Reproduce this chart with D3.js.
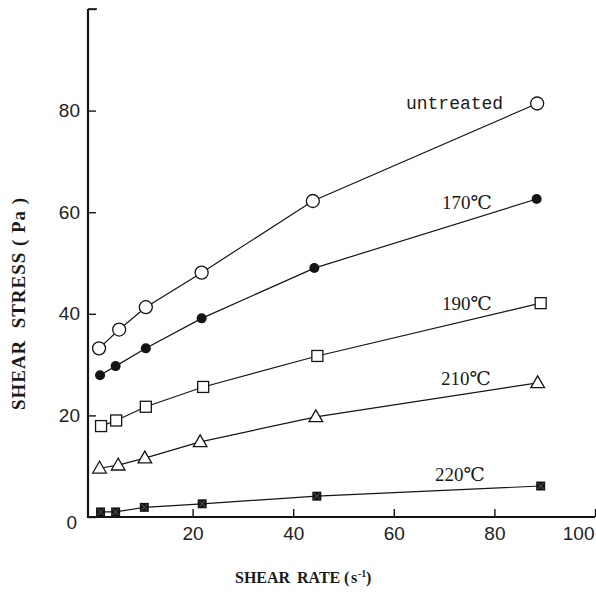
<!DOCTYPE html>
<html>
<head>
<meta charset="utf-8">
<script src="https://cdn.jsdelivr.net/npm/d3@7"></script>
<style>
  html, body { margin: 0; padding: 0; background: #fff; }
  svg { display: block; }
</style>
</head>
<body>
<svg id="chart" width="596" height="599"></svg>
<script>
// Shear stress vs shear rate for untreated and heat-treated samples
const rateTicks = [20, 40, 60, 80, 100];
const stressTicks = [0, 20, 40, 60, 80, 100];

const seriesNames = ["untreated", "170℃", "190℃", "210℃", "220℃"];

const rateUntreated = [1.4, 5.4, 10.7, 21.8, 43.9, 88.5];
const stressUntreated = [33.2, 36.9, 41.3, 48.1, 62.2, 81.4];

const rate170 = [1.6, 4.7, 10.7, 21.8, 44.2, 88.4];
const stress170 = [27.9, 29.7, 33.2, 39.1, 49.0, 62.6];

const rate190 = [1.8, 4.8, 10.7, 22.1, 44.8, 89.2];
const stress190 = [17.9, 19.0, 21.7, 25.6, 31.7, 42.1];

const rate210 = [1.5, 5.2, 10.5, 21.5, 44.5, 88.6];
const stress210 = [9.6, 10.2, 11.6, 14.8, 19.7, 26.4];

const rate220 = [1.7, 4.7, 10.4, 21.9, 44.7, 89.2];
const stress220 = [1.0, 1.0, 1.9, 2.6, 4.1, 6.1];

const rates = [rateUntreated, rate170, rate190, rate210, rate220];
const stresses = [stressUntreated, stress170, stress190, stress210, stress220];

// marker kind per series, and where each series label sits relative to its last point
const markerKinds = ["openCircle", "dot", "openSquare", "openTriangle", "darkSquare"];
const labelShift = [[-34, 6], [-45, 10], [-49, 7], [-47, 2], [-56, -5]];

const svg = d3.select("#chart");
const ink = "#151515";

const x = d3.scaleLinear().domain([0, 100]).range([92, 595]);
const y = d3.scaleLinear().domain([0, 100]).range([517, 9]);
const axisX = 88;

// y axis: ticks pointing into the plot
const gy = svg.append("g")
  .attr("transform", `translate(${axisX},0)`)
  .call(d3.axisLeft(y).tickValues(stressTicks).tickSize(-8).tickPadding(8)
    .tickFormat(d => d === 100 ? "" : String(d)));
gy.select(".domain").remove();
gy.selectAll(".tick line").attr("stroke", ink).attr("stroke-width", 1.4);
gy.selectAll(".tick text")
  .attr("font-family", "'Liberation Sans', Arial, sans-serif")
  .attr("font-size", 19).attr("fill", "#222");
gy.selectAll(".tick").filter(d => d === 0).select("text")
  .attr("dx", -3).attr("dy", "0.6em");

// x axis
const gx = svg.append("g")
  .attr("transform", `translate(0,${y(0)})`)
  .call(d3.axisBottom(x).tickValues(rateTicks).tickSize(-8).tickPadding(10));
gx.select(".domain").remove();
gx.selectAll(".tick line").attr("stroke", ink).attr("stroke-width", 1.4);
gx.selectAll(".tick text")
  .attr("font-family", "'Liberation Sans', Arial, sans-serif")
  .attr("font-size", 19).attr("fill", "#222");
// the last label is pulled in so it stays inside the frame
gx.selectAll(".tick").filter(d => d === 100).select("text")
  .attr("text-anchor", "end").attr("dx", -1);

// axis lines
svg.append("line")
  .attr("x1", axisX).attr("x2", axisX).attr("y1", y(0) + 1).attr("y2", y(100))
  .attr("stroke", ink).attr("stroke-width", 2.2);
svg.append("line")
  .attr("x1", axisX).attr("x2", x(100)).attr("y1", y(0)).attr("y2", y(0))
  .attr("stroke", ink).attr("stroke-width", 2);
svg.append("line")
  .attr("x1", axisX).attr("x2", axisX + 9).attr("y1", y(100)).attr("y2", y(100))
  .attr("stroke", ink).attr("stroke-width", 1.6);

// series lines
const line = d3.line().x(d => x(d[0])).y(d => y(d[1]));
const seriesPts = rates.map((r, i) => r.map((v, j) => [v, stresses[i][j]]));

svg.append("g").selectAll("path")
  .data(seriesPts)
  .join("path")
  .attr("d", line)
  .attr("fill", "none")
  .attr("stroke", ink)
  .attr("stroke-width", 1.2);

// markers
const marks = svg.append("g");
seriesPts.forEach((pts, i) => {
  const kind = markerKinds[i];
  const g = marks.append("g");
  pts.forEach(p => {
    const cx = x(p[0]), cy = y(p[1]);
    if (kind === "openCircle") {
      g.append("circle").attr("cx", cx).attr("cy", cy).attr("r", 6.5)
        .attr("fill", "#fff").attr("stroke", ink).attr("stroke-width", 1.3);
    } else if (kind === "dot") {
      g.append("circle").attr("cx", cx).attr("cy", cy).attr("r", 5)
        .attr("fill", ink);
    } else if (kind === "openSquare") {
      g.append("rect").attr("x", cx - 5.5).attr("y", cy - 5.5)
        .attr("width", 11).attr("height", 11)
        .attr("fill", "#fff").attr("stroke", ink).attr("stroke-width", 1.3);
    } else if (kind === "openTriangle") {
      g.append("path")
        .attr("d", `M${cx},${cy - 7}L${cx + 6.8},${cy + 4.8}L${cx - 6.8},${cy + 4.8}Z`)
        .attr("fill", "#fff").attr("stroke", ink).attr("stroke-width", 1.3);
    } else {
      g.append("rect").attr("x", cx - 4.5).attr("y", cy - 4.5)
        .attr("width", 9).attr("height", 9).attr("fill", ink);
      g.append("path")
        .attr("d", `M${cx - 3},${cy - 3}L${cx + 3},${cy + 3}M${cx + 3},${cy - 3}L${cx - 3},${cy + 3}`)
        .attr("stroke", "#777").attr("stroke-width", 0.7);
    }
  });
});

// series labels
seriesNames.forEach((name, i) => {
  const r = rates[i], s = stresses[i];
  const last = r.length - 1;
  const isWord = i === 0;
  svg.append("text")
    .attr("x", x(r[last]) + labelShift[i][0])
    .attr("y", y(s[last]) + labelShift[i][1])
    .attr("text-anchor", "end")
    .attr("font-family", isWord ? "'Liberation Mono', 'DejaVu Sans Mono', monospace"
                                : "'Liberation Serif', 'DejaVu Serif', serif")
    .attr("font-size", isWord ? 18 : 19)
    .attr("fill", "#1a1a1a")
    .text(name);
});

// axis titles
const titleFont = "'Liberation Serif', 'DejaVu Serif', 'Times New Roman', serif";
svg.append("text")
  .attr("transform", "translate(25,304) rotate(-90)")
  .attr("text-anchor", "middle")
  .attr("font-family", titleFont).attr("font-weight", "bold")
  .attr("font-size", 19).attr("fill", "#1a1a1a")
  .style("white-space", "pre")
  .attr("textLength", 212).attr("lengthAdjust", "spacing")
  .text("SHEAR  STRESS ( Pa )");

// x title, set piece by piece so the spaced-out parentheses and superscript sit right
const xt = svg.append("text")
  .attr("y", 583)
  .attr("font-family", titleFont).attr("font-weight", "bold")
  .attr("font-size", 16).attr("fill", "#1a1a1a");
xt.append("tspan").attr("x", 235).text("SHEAR");
xt.append("tspan").attr("x", 297).text("RATE");
xt.append("tspan").attr("x", 344).text("(");
xt.append("tspan").attr("x", 351).text("s");
xt.append("tspan").attr("x", 358).attr("dy", -6).attr("font-size", 10).text("-1");
xt.append("tspan").attr("x", 366).attr("dy", 6).text(")");
</script>
</body>
</html>
